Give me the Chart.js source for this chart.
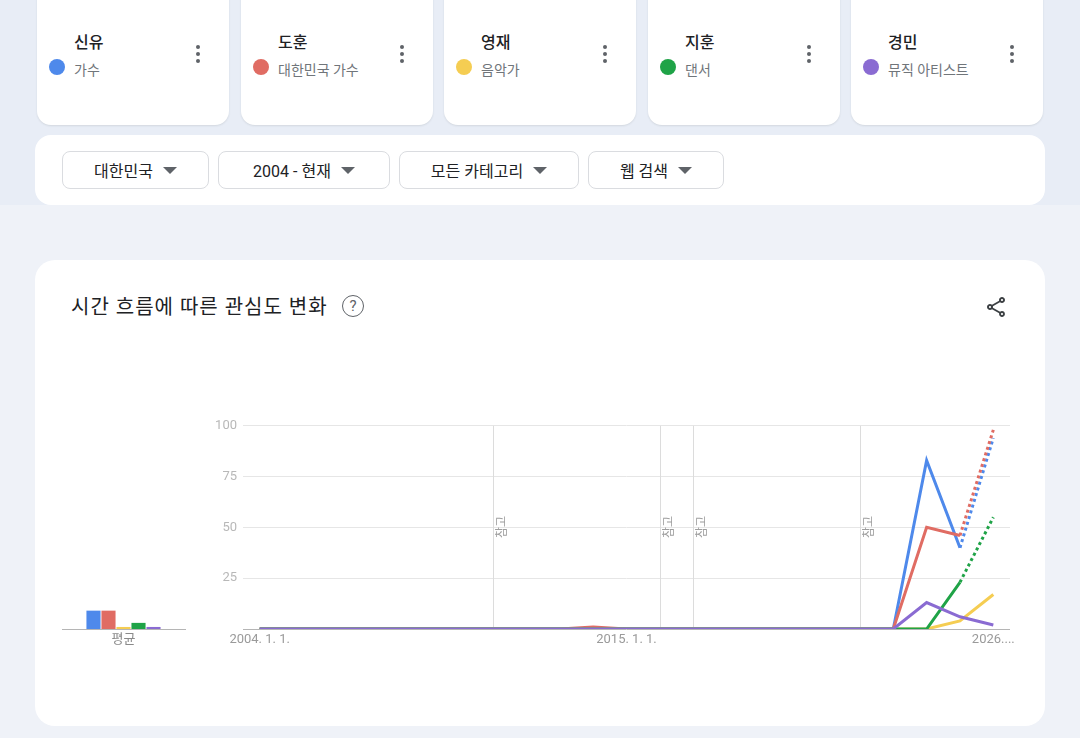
<!DOCTYPE html>
<html lang="ko">
<head>
<meta charset="utf-8">
<title>시간 흐름에 따른 관심도 변화</title>
<script src="https://cdn.jsdelivr.net/npm/chart.js@4"></script>
<style>
  body { margin: 0; width: 1080px; height: 738px; overflow: hidden; background: #eff2f8; position: relative;
         font-family: Roboto, "Noto Sans CJK KR", sans-serif; color: #202124; }
  .band { position: absolute; left: 0; top: 0; width: 1080px; height: 205px; background: #e8edf6; }
  .card { position: absolute; top: -20px; width: 192px; height: 145px; background: #fff; border-radius: 14px;
          box-shadow: 0 1px 2px rgba(60,64,67,0.12); }
  .card .name { position: absolute; left: 37px; top: 49px; font-size: 16px; font-weight: 500; }
  .card .dot { position: absolute; left: 12px; top: 79px; width: 16px; height: 16px; border-radius: 50%; }
  .card .sub { position: absolute; left: 37px; top: 79px; font-size: 14px; color: #70757a; }
  .card .kebab { position: absolute; left: 159px; top: 65px; width: 4px; }
  .card .kebab i { display: block; width: 4px; height: 4px; border-radius: 50%; background: #5f6368; margin-bottom: 3px; }
  .filters { position: absolute; left: 35px; top: 135px; width: 1010px; height: 70px; background: #fff; border-radius: 16px; }
  .btn { position: absolute; top: 16px; height: 36px; border: 1px solid #dadce0; border-radius: 8px; box-sizing: content-box;
         display: flex; align-items: center; justify-content: center; gap: 10px; font-size: 16px; color: #202124; }
  .tri { width: 0; height: 0; border-left: 7px solid transparent; border-right: 7px solid transparent; border-top: 7px solid #5f6368; }
  .panel { position: absolute; left: 35px; top: 260px; width: 1010px; height: 466px; background: #fff; border-radius: 20px; }
  .panel h2 { position: absolute; left: 36px; top: 31px; margin: 0; font-size: 20px; font-weight: 400; letter-spacing: 1px; }
  .help { position: absolute; left: 307px; top: 35px; width: 20px; height: 20px; border: 1.6px solid #5f6368; border-radius: 50%;
          font-size: 15px; line-height: 20px; text-align: center; color: #5f6368; }
  .share { position: absolute; left: 949px; top: 35px; }
  canvas { position: absolute; }
</style>
</head>
<body>
<div class="band"></div>
<div id="cards"></div>
<div class="filters">
  <div class="btn" style="left:27px;width:145px">대한민국<span class="tri"></span></div>
  <div class="btn" style="left:183px;width:170px">2004 - 현재<span class="tri"></span></div>
  <div class="btn" style="left:364px;width:178px">모든 카테고리<span class="tri"></span></div>
  <div class="btn" style="left:553px;width:134px">웹 검색<span class="tri"></span></div>
</div>
<div class="panel">
  <h2>시간 흐름에 따른 관심도 변화</h2>
  <div class="help">?</div>
  <svg class="share" width="24" height="24" viewBox="0 0 24 24" fill="#3c4043"><path d="M18 16.08c-.76 0-1.44.3-1.96.77L8.91 12.7c.05-.23.09-.46.09-.7s-.04-.47-.09-.7l7.05-4.11c.54.5 1.25.81 2.04.81 1.66 0 3-1.34 3-3s-1.34-3-3-3-3 1.34-3 3c0 .24.04.47.09.7L8.04 9.81C7.5 9.31 6.79 9 6 9c-1.66 0-3 1.34-3 3s1.34 3 3 3c.79 0 1.5-.31 2.04-.81l7.12 4.16c-.05.21-.08.43-.08.65 0 1.61 1.31 2.92 2.92 2.92s2.92-1.31 2.920-2.92c0-1.61-1.31-2.92-2.92-2.92zM18 4c.55 0 1 .45 1 1s-.45 1-1 1-1-.45-1-1 .45-1 1-1zM6 13c-.55 0-1-.45-1-1s.45-1 1-1 1 .45 1 1-.45 1-1 1zm12 7.02c-.55 0-1-.45-1-1s.45-1 1-1 1 .45 1 1-.45 1-1 1z"/></svg>
</div>
<canvas id="avgChart" width="140" height="239" style="left:55px;top:415px"></canvas>
<canvas id="trendChart" width="835" height="242" style="left:195px;top:412px"></canvas>

<script>
// 검색어 + 설명
let terms = ['신유', '도훈', '영재', '지훈', '경민'];
let termTypes = ['가수', '대한민국 가수', '음악가', '댄서', '뮤직 아티스트'];
let colors = ['#4e89eb', '#e06c63', '#f5cd52', '#1fa347', '#8a6bd2'];

// 연도 (2004 - 2026)
let years = ['2004', '2005', '2006', '2007', '2008', '2009', '2010', '2011', '2012', '2013', '2014', '2015',
             '2016', '2017', '2018', '2019', '2020', '2021', '2022', '2023', '2024', '2025', '2026'];
let xTickLabels = ['2004. 1. 1.', '2015. 1. 1.', '2026....'];
let xTickYears = ['2004', '2015', '2026'];
let noteYears = ['2011', '2016', '2017', '2022'];   // "참고" 표시
let yTicks = [0, 25, 50, 75, 100];

let shinyu  = [0, 0, 0, 0, 0, 0, 0, 0, 0, 0, 0, 0, 0, 0, 0, 0, 0, 0, 0, 0, 83, 40, 94];
let dohun   = [0, 0, 0, 0, 0, 0, 0, 0, 0, 0, 1, 0, 0, 0, 0, 0, 0, 0, 0, 0, 50, 46, 98];
let youngjae = [0, 0, 0, 0, 0, 0, 0, 0, 0, 0, 0, 0, 0, 0, 0, 0, 0, 0, 0, 0, 0, 4, 17];
let jihun   = [0, 0, 0, 0, 0, 0, 0, 0, 0, 0, 0, 0, 0, 0, 0, 0, 0, 0, 0, 0, 0, 23, 55];
let kyungmin = [0, 0, 0, 0, 0, 0, 0, 0, 0, 0, 0, 0, 0, 0, 0, 0, 0, 0, 0, 0, 13, 6, 2];
let dottedTerms = ['신유', '도훈', '지훈'];  // 마지막 구간 점선

// 평균
let averages = [9, 9, 1, 3, 1];

// 카드 만들기
let cardLefts = [37, 241, 444, 648, 851];
let cardsEl = document.getElementById('cards');
terms.forEach((t, i) => {
    let c = document.createElement('div');
    c.className = 'card';
    c.style.left = cardLefts[i] + 'px';
    c.innerHTML = '<div class="name">' + t + '</div><div class="dot" style="background:' + colors[i] + '"></div>' +
        '<div class="sub">' + termTypes[i] + '</div><div class="kebab"><i></i><i></i><i></i></div>';
    cardsEl.appendChild(c);
});

Chart.defaults.font.family = 'Roboto, "Noto Sans CJK KR", sans-serif';
Chart.defaults.animation = false;

let allSeries = [shinyu, dohun, youngjae, jihun, kyungmin];

// 참고 선
const notePlugin = {
    id: 'notes',
    beforeDatasetsDraw(chart) {
        const ctx = chart.ctx, area = chart.chartArea, x = chart.scales.x;
        ctx.save();
        noteYears.forEach(y => {
            let px = Math.round(x.getPixelForValue(years.indexOf(y))) + 0.5;
            ctx.strokeStyle = '#dcdcdc';
            ctx.lineWidth = 1;
            ctx.beginPath();
            ctx.moveTo(px, area.top);
            ctx.lineTo(px, area.bottom);
            ctx.stroke();
            ctx.save();
            ctx.translate(px + 8, 527 - 412);
            ctx.rotate(-Math.PI / 2);
            ctx.fillStyle = '#9e9e9e';
            ctx.font = '12px "Noto Sans CJK KR"';
            ctx.textAlign = 'center';
            ctx.textBaseline = 'middle';
            ctx.fillText('참고', 0, 0);
            ctx.restore();
        });
        ctx.restore();
    }
};

new Chart(document.getElementById('trendChart'), {
    type: 'line',
    data: {
        labels: years,
        datasets: terms.map((t, i) => ({
            label: t,
            data: allSeries[i],
            borderColor: colors[i],
            borderWidth: 3,
            pointRadius: 0,
            tension: 0,
            order: terms.length - 1 - i,
            segment: {
                borderDash: ctx => (dottedTerms.includes(t) && ctx.p0DataIndex >= 21) ? [3, 3] : undefined
            }
        }))
    },
    options: {
        responsive: false,
        layout: { padding: { top: 7, right: 20, left: 0, bottom: 0 } },
        plugins: { legend: { display: false }, tooltip: { enabled: false } },
        scales: {
            x: {
                offset: true,
                grid: { display: false, drawTicks: false },
                border: { display: false },
                afterFit: s => { s.height = 25; },
                ticks: {
                    autoSkip: false, maxRotation: 0, padding: 3,
                    color: '#9a9a9a', font: { size: 13 },
                    callback: function (v) {
                        let k = xTickYears.indexOf(years[v]);
                        return k >= 0 ? xTickLabels[k] : '';
                    }
                }
            },
            y: {
                min: 0, max: 100,
                afterBuildTicks: s => { s.ticks = yTicks.map(v => ({ value: v })); },
                afterFit: s => { s.width = 48; },
                grid: {
                    drawTicks: false,
                    color: c => c.tick.value === 0 ? '#b5b5b5' : '#e6e6e6'
                },
                border: { display: false },
                ticks: {
                    padding: 6, color: '#b8b8b8', font: { size: 13 },
                    callback: v => v === 0 ? '' : v
                }
            }
        }
    },
    plugins: [notePlugin]
});

new Chart(document.getElementById('avgChart'), {
    type: 'bar',
    data: {
        labels: ['평균'],
        datasets: terms.map((t, i) => ({
            label: t,
            data: [averages[i]],
            backgroundColor: colors[i],
            categoryPercentage: 0.61,
            barPercentage: 0.94
        }))
    },
    options: {
        responsive: false,
        layout: { padding: { top: 10, left: 7, right: 10, bottom: 0 } },
        plugins: { legend: { display: false }, tooltip: { enabled: false } },
        scales: {
            x: {
                grid: { display: false, drawTicks: false },
                border: { color: '#b5b5b5', width: 1 },
                afterFit: s => { s.height = 25; },
                ticks: { padding: 3, color: '#8a8a8a', font: { size: 13 } }
            },
            y: { display: false, min: 0, max: 100 }
        }
    }
});
</script>
</body>
</html>
